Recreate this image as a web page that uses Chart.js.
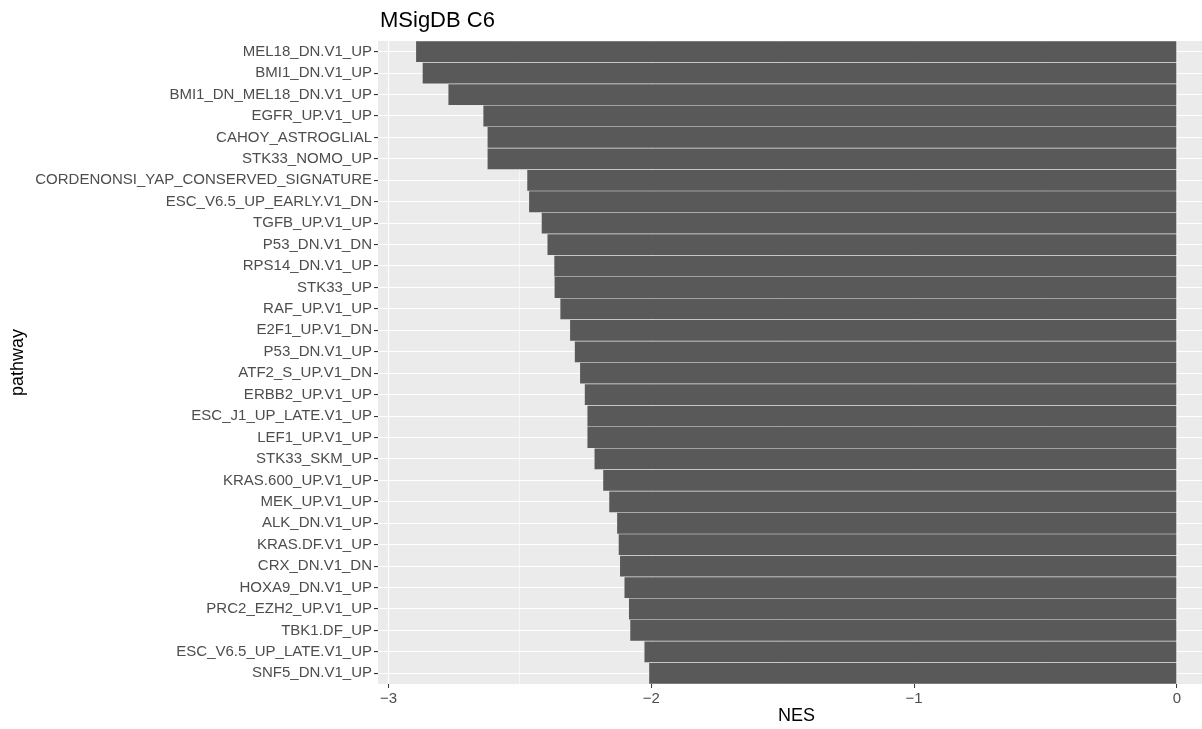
<!DOCTYPE html>
<html>
<head>
<meta charset="utf-8">
<script src="https://cdn.jsdelivr.net/npm/chart.js@4/dist/chart.umd.min.js"></script>
<style>
  html, body { margin: 0; padding: 0; background: #fff; overflow: hidden; }
  #wrap { width: 1215px; height: 729px; }
</style>
</head>
<body>
<div id="wrap"><canvas id="nes"></canvas></div>
<script>
const PATHWAYS = [
    'MEL18_DN.V1_UP', 'BMI1_DN.V1_UP', 'BMI1_DN_MEL18_DN.V1_UP', 'EGFR_UP.V1_UP',
    'CAHOY_ASTROGLIAL', 'STK33_NOMO_UP', 'CORDENONSI_YAP_CONSERVED_SIGNATURE',
    'ESC_V6.5_UP_EARLY.V1_DN', 'TGFB_UP.V1_UP', 'P53_DN.V1_DN', 'RPS14_DN.V1_UP',
    'STK33_UP', 'RAF_UP.V1_UP', 'E2F1_UP.V1_DN', 'P53_DN.V1_UP', 'ATF2_S_UP.V1_DN',
    'ERBB2_UP.V1_UP', 'ESC_J1_UP_LATE.V1_UP', 'LEF1_UP.V1_UP', 'STK33_SKM_UP',
    'KRAS.600_UP.V1_UP', 'MEK_UP.V1_UP', 'ALK_DN.V1_UP', 'KRAS.DF.V1_UP',
    'CRX_DN.V1_DN', 'HOXA9_DN.V1_UP', 'PRC2_EZH2_UP.V1_UP', 'TBK1.DF_UP',
    'ESC_V6.5_UP_LATE.V1_UP', 'SNF5_DN.V1_UP'
]

const NES = [
    -2.895, -2.870, -2.772, -2.639, -2.623, -2.623, -2.472, -2.465, -2.417, -2.395,
    -2.369, -2.368, -2.346, -2.309, -2.291, -2.271, -2.253, -2.243, -2.243, -2.216,
    -2.183, -2.160, -2.130, -2.124, -2.119, -2.102, -2.085, -2.080, -2.026, -2.008
]

const X_TICKS = [-3, -2.5, -2, -1.5, -1, -0.5, 0]
const X_MIN = -3.04
const X_MAX = 0.145

const FONT = 'Liberation Sans, Arial, sans-serif'

function isMajor(v) {
    return Math.abs(v - Math.round(v)) < 1e-6
}

// grey ggplot panel + title + y axis title
const panelPlugin = {
    id: 'panel',
    beforeDraw(chart) {
        const { ctx, chartArea: a } = chart
        ctx.save()
        ctx.fillStyle = '#EBEBEB'
        ctx.fillRect(a.left, a.top, a.right - a.left, a.bottom - a.top)
        ctx.restore()
    },
    afterDraw(chart) {
        const { ctx, chartArea: a } = chart
        ctx.save()
        ctx.fillStyle = '#000'
        ctx.font = '22px ' + FONT
        ctx.textBaseline = 'middle'
        ctx.textAlign = 'left'
        ctx.fillText('MSigDB C6', 380, 21)

        ctx.translate(18, (a.top + a.bottom) / 2)
        ctx.rotate(-Math.PI / 2)
        ctx.textAlign = 'center'
        ctx.font = '18px ' + FONT
        ctx.fillText('pathway', 0, 0)
        ctx.restore()
    }
}

new Chart(document.getElementById('nes'), {
    type: 'bar',
    data: {
        labels: PATHWAYS,
        datasets: [{
            label: 'NES',
            data: NES,
            backgroundColor: '#595959',
            borderWidth: 0,
            barPercentage: 0.97,
            categoryPercentage: 1
        }]
    },
    options: {
        indexAxis: 'y',
        responsive: true,
        maintainAspectRatio: false,
        animation: false,
        layout: { padding: { top: 41, left: 0, right: 0, bottom: 0 } },
        plugins: {
            legend: { display: false },
            tooltip: { enabled: false }
        },
        scales: {
            x: {
                type: 'linear',
                min: X_MIN,
                max: X_MAX,
                afterBuildTicks: (scale) => {
                    scale.ticks = X_TICKS.map(v => ({ value: v }))
                },
                afterFit: (scale) => { scale.height = 45 },
                border: { display: false },
                grid: {
                    color: '#FFFFFF',
                    lineWidth: (c) => isMajor(c.tick.value) ? 1.1 : 0.55,
                    tickColor: (c) => isMajor(c.tick.value) ? '#333333' : 'rgba(0,0,0,0)',
                    tickLength: 4,
                    tickWidth: 1
                },
                ticks: {
                    autoSkip: false,
                    maxRotation: 0,
                    padding: 2,
                    color: '#4D4D4D',
                    font: { family: FONT, size: 15 },
                    callback: (v) => {
                        if (!isMajor(v)) return ''
                        return v === 0 ? '0' : '\u2212' + Math.abs(v)
                    }
                },
                title: {
                    display: true,
                    text: 'NES',
                    color: '#000',
                    font: { family: FONT, size: 18 },
                    padding: { top: 0, bottom: 2 }
                }
            },
            y: {
                afterFit: (scale) => { scale.width = 378 },
                border: { display: false },
                grid: {
                    offset: false,
                    color: '#FFFFFF',
                    lineWidth: 1.1,
                    tickColor: '#333333',
                    tickLength: 4
                },
                ticks: {
                    autoSkip: false,
                    padding: 2,
                    color: '#4D4D4D',
                    font: { family: FONT, size: 15 }
                }
            }
        }
    },
    plugins: [panelPlugin]
})
</script>
</body>
</html>
